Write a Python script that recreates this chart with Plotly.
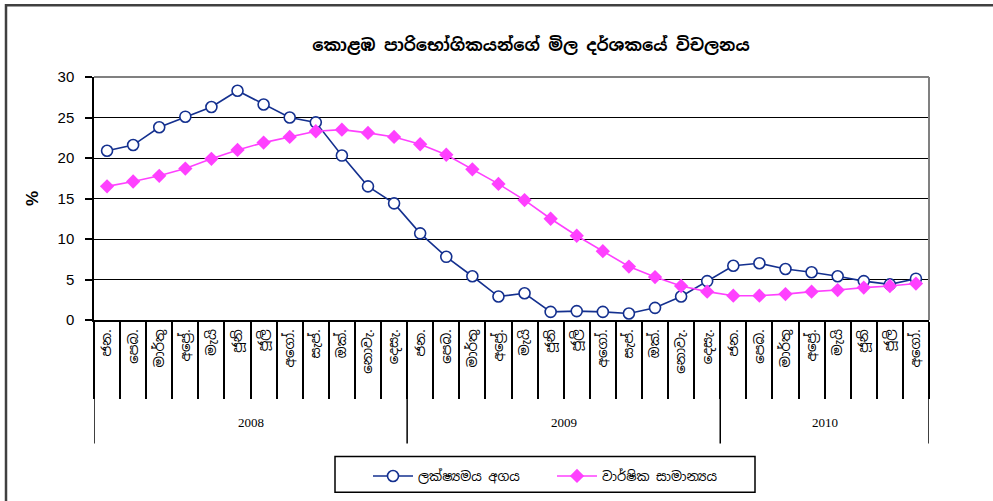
import plotly.graph_objects as go

years = ["2008"] * 12 + ["2009"] * 12 + ["2010"] * 8
month_names = ["ජන.", "පෙබ.", "මාර්තු", "අප්‍රේ.", "මැයි", "ජූනි", "ජූලි", "අගෝ.", "සැප්.", "ඔක්.", "නොවැ.", "දෙසැ."]
months = (month_names * 3)[:32]

point_to_point = [20.9, 21.6, 23.8, 25.1, 26.3, 28.3, 26.6, 25.0, 24.4, 20.3, 16.5, 14.4,
                  10.7, 7.8, 5.4, 2.9, 3.3, 1.0, 1.1, 1.0, 0.8, 1.5, 2.9, 4.8,
                  6.7, 7.0, 6.3, 5.9, 5.4, 4.8, 4.4, 5.1]
annual_avg = [16.5, 17.1, 17.8, 18.7, 19.9, 21.0, 21.9, 22.6, 23.3, 23.5, 23.1, 22.6,
              21.7, 20.4, 18.6, 16.8, 14.8, 12.5, 10.4, 8.5, 6.6, 5.3, 4.2, 3.5,
              3.0, 3.0, 3.2, 3.5, 3.7, 4.0, 4.2, 4.5]

title_text = "කොළඹ පාරිභෝගිකයන්ගේ මිල දර්ශකයේ විචලනය"
name1 = "ලක්ෂ්‍යමය අගය"
name2 = "වාර්ෂික සාමාන්‍යය"

keys = [f"{y}-{m}" for y, m in zip(years, months)]

SIN = "Noto Sans Sinhala, Iskoola Pota, Noto Sans, sans-serif"

fig = go.Figure()
fig.add_trace(go.Scatter(
    x=keys, y=point_to_point, name=name1, mode="lines+markers",
    line=dict(color="#14308f", width=1.6),
    marker=dict(symbol="circle", size=11, color="white", line=dict(color="#14308f", width=1.6)),
))
fig.add_trace(go.Scatter(
    x=keys, y=annual_avg, name=name2, mode="lines+markers",
    line=dict(color="#ff40ff", width=1.6),
    marker=dict(symbol="diamond", size=11, color="#ff40ff", line=dict(width=0)),
))

PLOT_L, PLOT_R, PLOT_T, PLOT_B = 94, 929, 77, 321
PW, PH = PLOT_R - PLOT_L, PLOT_B - PLOT_T


def px_x(x):
    return (x - PLOT_L) / PW


def px_y(y):
    return (PLOT_B - y) / PH


shapes = []
unique_years = []
for y in years:
    if y not in unique_years:
        unique_years.append(y)
bounds = [-0.5]
annotations = []
for uy in unique_years:
    idx = [i for i, y in enumerate(years) if y == uy]
    bounds.append(idx[-1] + 0.5)
    annotations.append(dict(x=(idx[0] + idx[-1]) / 2, y=px_y(424), xref="x", yref="paper",
                            text=uy, showarrow=False, yanchor="middle",
                            font=dict(family="Liberation Serif, serif", size=13, color="black")))
for b in bounds:
    shapes.append(dict(type="line", xref="x", yref="paper", x0=b, x1=b, y0=0, y1=px_y(445),
                       line=dict(color="black", width=1.5)))
# plot-area border (top / right grey)
shapes.append(dict(type="line", xref="paper", yref="paper", x0=0, x1=1, y0=1, y1=1,
                   line=dict(color="#808080", width=2), layer="above"))
shapes.append(dict(type="line", xref="paper", yref="paper", x0=1, x1=1, y0=0, y1=1,
                   line=dict(color="#808080", width=2), layer="above"))
# outer chart frame
shapes.append(dict(type="rect", xref="paper", yref="paper", x0=px_x(6), x1=px_x(1100), y0=px_y(700), y1=px_y(5),
                   line=dict(color="#404040", width=2.5), layer="below"))
# legend frame
shapes.append(dict(type="rect", xref="paper", yref="paper", x0=px_x(335), x1=px_x(755), y0=px_y(494), y1=px_y(458),
                   line=dict(color="black", width=1.5), layer="below"))

fig.update_layout(
    width=993, height=501,
    margin=dict(l=PLOT_L, r=993 - PLOT_R, t=PLOT_T, b=501 - PLOT_B),
    paper_bgcolor="white", plot_bgcolor="white",
    showlegend=True,
    title=dict(text=title_text, x=531 / 993, xanchor="center", y=1 - 45 / 501, yanchor="middle",
               font=dict(family=SIN, size=16.7, color="black", weight="bold")),
    xaxis=dict(
        type="category", range=[-0.5, 31.5],
        tickmode="array", tickvals=keys, ticktext=months,
        tickangle=-90, tickson="boundaries", ticks="outside", ticklen=77,
        tickcolor="black", tickwidth=1.5, ticklabelstandoff=2,
        tickfont=dict(family=SIN, size=13.5, color="black"),
        showline=True, linecolor="black", linewidth=1.5, showgrid=False, zeroline=False,
    ),
    yaxis=dict(
        range=[0, 30], tickmode="linear", tick0=0, dtick=5,
        ticks="outside", ticklen=7, tickcolor="black", tickwidth=1.5,
        showline=True, linecolor="black", linewidth=1.5,
        showgrid=True, gridcolor="black", gridwidth=1.2, zeroline=False,
        tickfont=dict(family="Liberation Sans, Arial, sans-serif", size=15, color="black"),
        ticklabelstandoff=8,
        title=dict(text="%", standoff=15,
                   font=dict(family="Liberation Sans, Arial, sans-serif", size=17, color="black", weight="bold")),
    ),
    legend=dict(
        orientation="h", x=px_x(368), xanchor="left", y=px_y(476), yanchor="middle",
        borderwidth=0, bgcolor="rgba(0,0,0,0)",
        font=dict(family=SIN, size=13, color="black"),
        itemwidth=40, entrywidth=129, entrywidthmode="pixels", traceorder="normal",
    ),
    shapes=shapes,
    annotations=annotations,
)

fig.write_html("out.html", config={"displayModeBar": False},
               post_script="document.body.style.margin='0';document.body.style.overflow='hidden';")
